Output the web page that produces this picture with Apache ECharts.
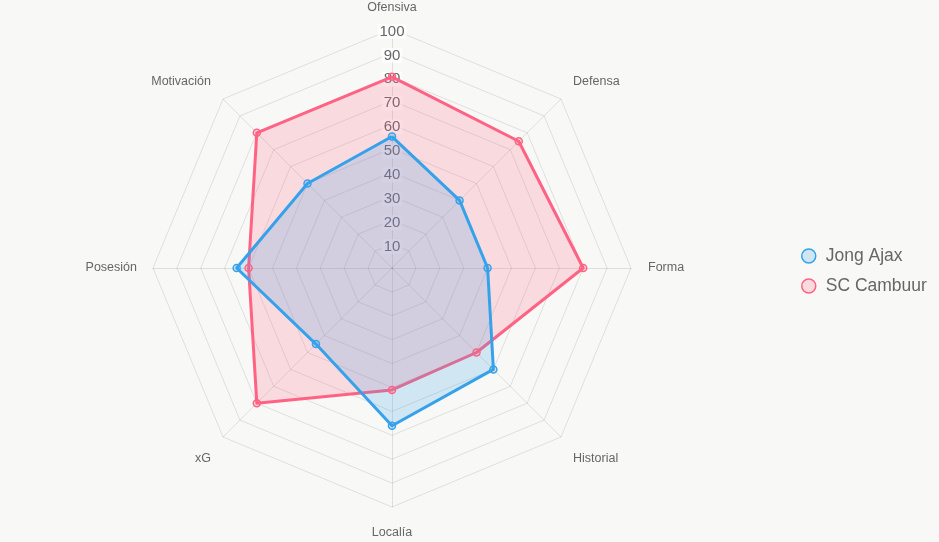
<!DOCTYPE html>
<html>
<head>
<meta charset="utf-8">
<script src="https://cdn.jsdelivr.net/npm/echarts@6/dist/echarts.min.js"></script>
<style>
html,body{margin:0;padding:0;background:#f8f8f6;}
#chart{width:939px;height:542px;}
</style>
</head>
<body>
<div id="chart"></div>
<script>
// Categories in reference order (clockwise from top)
const categories = ['Ofensiva', 'Defensa', 'Forma', 'Historial', 'Localía', 'xG', 'Posesión', 'Motivación'];
const jongAjax = [55, 40, 40, 60, 66, 45, 65, 50];
const scCambuur = [80, 75, 80, 50, 51, 80, 60, 80];
const seriesNames = ['Jong Ajax', 'SC Cambuur'];
const tickMax = 100;

// ECharts radar runs counter-clockwise; reorder to draw clockwise like the reference
const order = [0].concat(categories.map((_, i) => i).slice(1).reverse());
const reorder = arr => order.map(i => arr[i]);

const font = 'Arial, "Liberation Sans", Helvetica, sans-serif';
const blue = '#36A2EB', red = '#FF6384';

// label placement tweaks per category (reference order)
const nameGaps = [15, 17, 17, 17, 19, 17, 16, 17];
const nameVAlign = [null, 'bottom', null, 'top', null, 'top', null, 'bottom'];
const nameLH = [null, 11, null, 19, null, 19, null, 11];
const gapsR = reorder(nameGaps), vaR = reorder(nameVAlign), lhR = reorder(nameLH);

const indicators = reorder(categories).map((name, i) => {
  const ind = { name: name, max: tickMax, min: 0, nameGap: gapsR[i] };
  if (vaR[i]) {
    ind.axisName = { verticalAlign: vaR[i], lineHeight: lhR[i] };
    ind.nameTextStyle = { verticalAlign: vaR[i], lineHeight: lhR[i] };
  }
  if (i === 0) ind.axisLabel = { show: true };
  return ind;
});

const chart = echarts.init(document.getElementById('chart'));
chart.setOption({
  backgroundColor: '#f8f8f6',
  animation: false,
  textStyle: { fontFamily: font },
  legend: {
    orient: 'vertical',
    left: 796,
    top: 'middle',
    itemWidth: 14,
    itemHeight: 14,
    itemGap: 12,
    textStyle: { color: '#666', fontSize: 17.5, fontFamily: font, padding: [0, 0, 0, 5] },
    data: [
      { name: seriesNames[0], icon: 'circle', itemStyle: { color: 'rgba(54,162,235,0.2)', borderColor: blue, borderWidth: 1.5 } },
      { name: seriesNames[1], icon: 'circle', itemStyle: { color: 'rgba(255,99,132,0.2)', borderColor: red, borderWidth: 1.5 } }
    ]
  },
  radar: {
    center: [392, 268],
    radius: 239,
    startAngle: 90,
    splitNumber: 10,
    shape: 'polygon',
    nameGap: 16,
    axisName: { color: '#666', fontSize: 12.5, fontFamily: font },
    splitLine: { lineStyle: { color: 'rgba(0,0,0,0.1)', width: 1 } },
    splitArea: { show: false },
    axisLine: { lineStyle: { color: 'rgba(0,0,0,0.1)', width: 1 } },
    axisTick: { show: false },
    axisLabel: {
      show: false,
      margin: 0,
      align: 'center',
      verticalAlign: 'middle',
      color: '#666',
      fontSize: 15,
      fontFamily: font,
      showMinLabel: false,
      formatter: v => (v === 0 ? '' : '{t|' + v + '}'),
      rich: {
        t: {
          color: '#666',
          fontSize: 15,
          fontFamily: font,
          lineHeight: 20,
          verticalAlign: 'bottom',
          backgroundColor: 'rgba(255,255,255,0.75)',
          padding: [0, 2]
        }
      }
    },
    indicator: indicators
  },
  series: [
    {
      type: 'radar',
      name: seriesNames[1],
      symbol: 'circle',
      symbolSize: 7,
      itemStyle: { color: 'rgba(255,99,132,0.2)', borderColor: red, borderWidth: 1.5 },
      lineStyle: { color: red, width: 3 },
      areaStyle: { color: 'rgba(255,99,132,0.2)', opacity: 1 },
      data: [{ name: seriesNames[1], value: reorder(scCambuur) }]
    },
    {
      type: 'radar',
      name: seriesNames[0],
      symbol: 'circle',
      symbolSize: 7,
      itemStyle: { color: 'rgba(54,162,235,0.2)', borderColor: blue, borderWidth: 1.5 },
      lineStyle: { color: blue, width: 3 },
      areaStyle: { color: 'rgba(54,162,235,0.2)', opacity: 1 },
      data: [{ name: seriesNames[0], value: reorder(jongAjax) }]
    }
  ]
});
</script>
</body>
</html>
